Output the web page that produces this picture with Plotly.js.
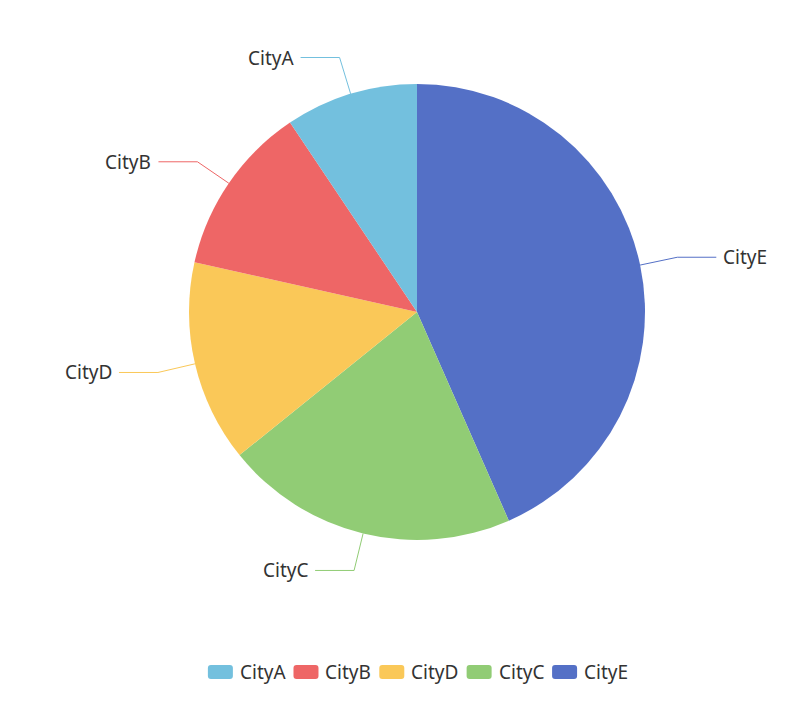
<!DOCTYPE html>
<html>
<head>
<meta charset="utf-8">
<script src="https://cdn.plot.ly/plotly-3.0.1.min.js"></script>
<style>
  html, body { margin: 0; padding: 0; background: #fff; }
  #chart { width: 800px; height: 706px; }
</style>
</head>
<body>
<div id="chart"></div>
<script>
// Share of each city
const categories = ['CityA', 'CityB', 'CityD', 'CityC', 'CityE'];
const values = [9.4, 12.1, 14.3, 20.8, 43.4];
const colors = ['#73c0de', '#ee6666', '#fac858', '#91cc75', '#5470c6'];

const W = 800, H = 706;
const cx = 417, cy = 312, R = 228;       // pie centre and radius in px
const bendR = 266, armLen = 39, textGap = 5;
const FONT = 'Noto Sans', FSIZE = 19, TXT = '#333';

const px = x => x / W;
const py = y => 1 - y / H;

const total = values.reduce((a, b) => a + b, 0);
const shapes = [];
const annotations = [];

// leader lines + outside labels; slices run counter-clockwise from 12 o'clock
let acc = 0;
values.forEach((v, i) => {
  const mid = (acc + v / 2) / total * 2 * Math.PI;
  acc += v;
  const dx = -Math.sin(mid), dy = -Math.cos(mid);
  const x1 = cx + R * dx, y1 = cy + R * dy;
  const x2 = cx + bendR * dx, y2 = cy + bendR * dy;
  const side = dx < 0 ? -1 : 1;
  const x3 = x2 + side * armLen;
  shapes.push({
    type: 'path', xref: 'paper', yref: 'paper',
    path: `M${px(x1)},${py(y1)} L${px(x2)},${py(y2)} L${px(x3)},${py(y2)}`,
    line: { color: colors[i], width: 1 }
  });
  annotations.push({
    xref: 'paper', yref: 'paper', showarrow: false,
    x: px(x3 + side * textGap), y: py(y2),
    xanchor: side < 0 ? 'right' : 'left', yanchor: 'middle',
    text: categories[i],
    font: { family: FONT, size: FSIZE, color: TXT }
  });
});

// bottom legend: rounded swatches followed by names, centred under the pie
const ctx = document.createElement('canvas').getContext('2d');
ctx.font = `${FSIZE}px "${FONT}"`;
const iconW = 25, iconH = 14, iconGap = 5, itemGap = 10, rr = 3, legY = 672;
const widths = categories.map(c => ctx.measureText(c).width);
const totalW = widths.reduce((s, w) => s + iconW + iconGap + w, 0) + itemGap * (categories.length - 1);
let lx = cx - totalW / 2;
categories.forEach((c, i) => {
  const x0 = lx, x1 = lx + iconW, y0 = legY - iconH / 2, y1 = legY + iconH / 2;
  const p = (x, y) => `${px(x)},${py(y)}`;
  shapes.push({
    type: 'path', xref: 'paper', yref: 'paper',
    path: `M${p(x0 + rr, y0)} L${p(x1 - rr, y0)} Q${p(x1, y0)} ${p(x1, y0 + rr)} ` +
          `L${p(x1, y1 - rr)} Q${p(x1, y1)} ${p(x1 - rr, y1)} L${p(x0 + rr, y1)} ` +
          `Q${p(x0, y1)} ${p(x0, y1 - rr)} L${p(x0, y0 + rr)} Q${p(x0, y0)} ${p(x0 + rr, y0)} Z`,
    fillcolor: colors[i], line: { width: 0 }
  });
  annotations.push({
    xref: 'paper', yref: 'paper', showarrow: false,
    x: px(x1 + iconGap), y: py(legY), xanchor: 'left', yanchor: 'middle',
    text: c, font: { family: FONT, size: FSIZE, color: TXT }
  });
  lx = x1 + iconGap + widths[i] + itemGap;
});

// Plotly's clockwise mode starts the first slice at 12 o'clock, so feed the
// slices in reverse to get the counter-clockwise A, B, D, C, E sequence.
const trace = {
  type: 'pie',
  labels: categories.slice().reverse(),
  values: values.slice().reverse(),
  marker: { colors: colors.slice().reverse(), line: { width: 0 } },
  sort: false,
  direction: 'clockwise',
  rotation: 0,
  textinfo: 'none',
  showlegend: false,
  domain: { x: [px(cx - R), px(cx + R)], y: [py(cy + R), py(cy - R)] }
};

Plotly.newPlot('chart', [trace], {
  width: W, height: H,
  margin: { l: 0, r: 0, t: 0, b: 0 },
  paper_bgcolor: '#fff',
  showlegend: false,
  shapes: shapes,
  annotations: annotations
}, { displayModeBar: false });
</script>
</body>
</html>
